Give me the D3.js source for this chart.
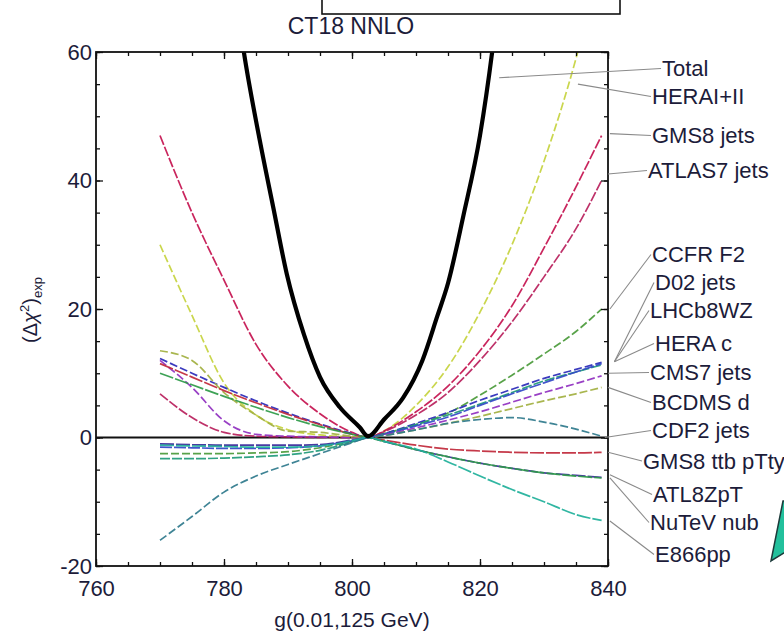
<!DOCTYPE html>
<html>
<head>
<meta charset="utf-8">
<script src="https://cdn.jsdelivr.net/npm/d3@7"></script>
<style>
  html, body { margin: 0; padding: 0; background: #fff; }
  svg { display: block; font-family: "Liberation Sans", Arial, sans-serif; }
</style>
</head>
<body>
<svg id="chart" width="784" height="634"></svg>
<script>
// ---------------- DATA ----------------
const xGrid = [770, 775, 780, 785, 790, 795, 800, 802.5, 805, 810, 815, 820, 825, 830, 835, 839];

const totalX = [782.5, 783.1, 785.6, 787.7, 789.8, 792.5, 795, 798.1, 801.2, 802.5, 805, 808, 811, 813.3, 815, 817.4, 820, 821.9, 822.4];
const totalY = [64, 60, 46.2, 35.8, 25.5, 16, 9.4, 4.7, 1.6, 0.2, 2.8, 6.2, 12, 18.8, 24, 34.5, 47, 60, 64];

const heraI_II  = [30, 19, 8.5, 3.5, 1.2, 0.4, 0.1, 0, 1, 5, 11, 19.5, 30, 43, 59, 75];
const cms8Jets  = [47, 35, 24.5, 14.5, 8, 3.7, 0.8, 0, 1, 4, 8, 13.5, 20.5, 29.5, 39, 47];
const atlas7Jets= [6.8, 3.1, 0.8, 0.2, 0.1, 0, 0, 0, 0.9, 3.5, 7, 12, 18, 25, 32.5, 40];
const ccfrF2    = [-2.5, -2.5, -2.5, -2.4, -2.2, -1.6, -0.6, 0, 0.6, 2, 3.8, 6.6, 9.7, 13, 16.5, 20];
const d02Jets   = [12.3, 10, 7.8, 5.7, 3.8, 2.1, 0.6, 0, 0.6, 2.2, 3.9, 5.8, 7.5, 9.2, 10.6, 11.7];
const lhcb8WZ   = [-3.3, -3.3, -3.2, -3.0, -2.7, -2.0, -0.7, 0, 0.5, 2, 3.5, 5.2, 7, 8.8, 10.2, 11.3];
const heraC     = [-1.5, -1.6, -1.7, -1.7, -1.6, -1.3, -0.5, 0, 0.5, 1.8, 3.2, 5, 6.8, 8.5, 10.2, 11.5];
const cms7Jets  = [12, 7.8, 2.6, 0.5, 0.2, 0.1, 0, 0, 0.4, 1.5, 2.7, 4, 5.5, 7, 8.4, 9.6];
const bcdmsD    = [13.5, 12, 7, 3.5, 1, 0.8, 0.2, 0, 0.3, 1.2, 2.2, 3.3, 4.5, 5.7, 6.8, 7.8];
const cdf2Jets  = [-16, -12.3, -8.5, -6, -4.2, -2.5, -0.8, 0, 0.3, 1.2, 2.2, 2.8, 3.1, 2.4, 1.3, 0.2];
const cms8ttb   = [11.5, 9.4, 7.3, 5.4, 3.6, 2.0, 0.5, 0, -0.4, -1.2, -1.8, -2.1, -2.3, -2.4, -2.4, -2.3];
const atl8ZpT   = [-1, -1.1, -1.2, -1.2, -1.2, -1.1, -0.4, 0, -0.6, -1.9, -3.0, -4.0, -4.8, -5.5, -5.9, -6.2];
const nutevNub  = [10, 8.2, 6.4, 4.7, 3.1, 1.7, 0.5, 0, -0.6, -1.9, -3.0, -4.0, -4.8, -5.5, -6.0, -6.3];
const e866pp    = [-1.2, -1.3, -1.4, -1.5, -1.5, -1.3, -0.5, 0, -0.6, -1.8, -3.8, -6.0, -8.1, -10.0, -12.0, -12.9];

const seriesNames = ["HERAI+II", "GMS8 jets", "ATLAS7 jets", "CCFR F2", "D02 jets", "LHCb8WZ", "HERA c",
                     "CMS7 jets", "BCDMS d", "CDF2 jets", "GMS8 ttb pTty", "ATL8ZpT", "NuTeV nub", "E866pp"];
const seriesValues = [heraI_II, cms8Jets, atlas7Jets, ccfrF2, d02Jets, lhcb8WZ, heraC,
                      cms7Jets, bcdmsD, cdf2Jets, cms8ttb, atl8ZpT, nutevNub, e866pp];

const xMajorTicks = [760, 780, 800, 820, 840];
const yMajorTicks = [-20, 0, 20, 40, 60];
const titleText = "CT18 NNLO";
const xAxisTitle = "g(0.01,125 GeV)";

// label list: name, leader anchor in data units
const labelNames   = ["Total", "HERAI+II", "GMS8 jets", "ATLAS7 jets", "CCFR F2", "D02 jets", "LHCb8WZ", "HERA c",
                      "CMS7 jets", "BCDMS d", "CDF2 jets", "GMS8 ttb pTty", "ATL8ZpT", "NuTeV nub", "E866pp"];
const anchorX = [823, 835.3, 840.3, 840, 840.3, 841, 841, 841, 840, 840, 839.5, 840, 840.3, 840.3, 840.3];
const anchorY = [56, 55, 47.3, 41, 20, 11.8, 11.8, 11.8, 10, 7.8, 0, -2.3, -5.8, -6.3, -13];

// ---------------- STYLE / LAYOUT ----------------
const seriesColors = ["#c6d23e", "#c4124f", "#b8205c", "#4a9a3a", "#2a2ab8", "#1e9a78", "#3348c8",
                      "#9030c0", "#a2b040", "#2f7a8c", "#c0283a", "#3a2a9a", "#2e9a48", "#20b09a"];
const seriesDash = ["8,3", "10,2", "10,2", "8,3", "8,3", "10,2", "12,2",
                    "8,3", "8,3", "8,3", "14,2", "14,2", "14,2", "14,2"];
const labelPosX = [662, 652, 652, 648, 652, 655, 650, 655, 650, 652, 652, 643, 653, 650, 655];
const labelPosY = [68.5, 96.5, 135.5, 170.5, 254.5, 282.5, 310.5, 343.5, 372.5, 402.5, 430.5, 461, 494.5, 522.5, 554.5];

const L = 96, R = 608, T = 52, B = 566;
const svg = d3.select("#chart");

const x = d3.scaleLinear().domain([760, 840]).range([L, R]);
const y = d3.scaleLinear().domain([-20, 60]).range([B, T]);

// top box
svg.append("rect").attr("x", 322).attr("y", -3).attr("width", 298).attr("height", 17)
  .attr("fill", "#fff").attr("stroke", "#111").attr("stroke-width", 1.6);

// title
svg.append("text").attr("x", 351).attr("y", 34).attr("text-anchor", "middle")
  .attr("font-size", 23).attr("fill", "#1c1c3a").text(titleText);

// clip
svg.append("clipPath").attr("id", "plotclip").append("rect")
  .attr("x", L).attr("y", T).attr("width", R - L).attr("height", B - T);

const plot = svg.append("g").attr("clip-path", "url(#plotclip)");

const line = d3.line().x(d => x(d[0])).y(d => y(d[1])).curve(d3.curveMonotoneX);

// zero line
plot.append("line").attr("x1", L).attr("x2", R).attr("y1", y(0)).attr("y2", y(0))
  .attr("stroke", "#111").attr("stroke-width", 2);

// series
seriesValues.forEach((vals, i) => {
  plot.append("path")
    .datum(xGrid.map((xv, j) => [xv, vals[j]]))
    .attr("d", line)
    .attr("fill", "none")
    .attr("stroke", seriesColors[i])
    .attr("stroke-width", 1.7)
    .attr("stroke-dasharray", seriesDash[i])
    .attr("opacity", 0.92);
});

// total
plot.append("path")
  .datum(totalX.map((xv, j) => [xv, totalY[j]]))
  .attr("d", line)
  .attr("fill", "none").attr("stroke", "#000").attr("stroke-width", 4.2);

// axes
function styleAxis(g) {
  g.selectAll(".domain").remove();
  g.selectAll("line").attr("stroke", "#111").attr("stroke-width", 1.3);
  g.selectAll("text").attr("font-size", 22).attr("fill", "#1c1c3a")
    .attr("font-family", "'Liberation Sans', Arial, sans-serif");
}
const xMinor = d3.range(760, 841, 5);
const yMinor = d3.range(-20, 61, 5);
const plainFmt = d => String(d);

svg.append("g").attr("transform", `translate(0,${B})`)
  .call(d3.axisBottom(x).tickValues(xMinor).tickSize(-4).tickFormat("")).call(styleAxis);
svg.append("g").attr("transform", `translate(0,${B})`)
  .call(d3.axisBottom(x).tickValues(xMajorTicks).tickSize(-7).tickPadding(14).tickFormat(plainFmt)).call(styleAxis);
svg.append("g").attr("transform", `translate(0,${T})`)
  .call(d3.axisTop(x).tickValues(xMinor).tickSize(-4).tickFormat("")).call(styleAxis);
svg.append("g").attr("transform", `translate(0,${T})`)
  .call(d3.axisTop(x).tickValues(xMajorTicks).tickSize(-7).tickFormat("")).call(styleAxis);
svg.append("g").attr("transform", `translate(${L},0)`)
  .call(d3.axisLeft(y).tickValues(yMinor).tickSize(-4).tickFormat("")).call(styleAxis);
svg.append("g").attr("transform", `translate(${L},0)`)
  .call(d3.axisLeft(y).tickValues(yMajorTicks).tickSize(-7).tickPadding(4).tickFormat(plainFmt)).call(styleAxis);
svg.append("g").attr("transform", `translate(${R},0)`)
  .call(d3.axisRight(y).tickValues(yMinor).tickSize(-4).tickFormat("")).call(styleAxis);
svg.append("g").attr("transform", `translate(${R},0)`)
  .call(d3.axisRight(y).tickValues(yMajorTicks).tickSize(-7).tickFormat("")).call(styleAxis);

// frame
svg.append("rect").attr("x", L).attr("y", T).attr("width", R - L).attr("height", B - T)
  .attr("fill", "none").attr("stroke", "#111").attr("stroke-width", 1.8);

// axis titles
svg.append("text").attr("x", 352).attr("y", 627).attr("text-anchor", "middle")
  .attr("font-size", 21).attr("fill", "#1c1c3a").text(xAxisTitle);

const yt = svg.append("text").attr("transform", "translate(37,310) rotate(-90)")
  .attr("text-anchor", "middle").attr("font-size", 20).attr("fill", "#1c1c3a");
yt.append("tspan").text("(Δ");
yt.append("tspan").attr("font-style", "italic").text("χ");
yt.append("tspan").attr("font-size", 13).attr("dy", -8).text("2");
yt.append("tspan").attr("dy", 8).text(")");
yt.append("tspan").attr("font-size", 13).attr("dy", 5).text("exp");

// leaders and labels
const lg = svg.append("g");
labelNames.forEach((name, i) => {
  lg.append("line")
    .attr("x1", x(anchorX[i])).attr("y1", y(anchorY[i]))
    .attr("x2", labelPosX[i] - 1).attr("y2", labelPosY[i])
    .attr("stroke", "#8a8a8a").attr("stroke-width", 1.1);
  lg.append("text").attr("x", labelPosX[i]).attr("y", labelPosY[i]).attr("dy", "0.36em")
    .attr("font-size", 22).attr("fill", "#1c1c3a").text(name);
});

// green triangle decoration (bottom right)
svg.append("polygon").attr("points", "771,561 783,501 800,501 800,543")
  .attr("fill", "#22c09c").attr("stroke", "#1c3a3a").attr("stroke-width", 1.5);
</script>
</body>
</html>
